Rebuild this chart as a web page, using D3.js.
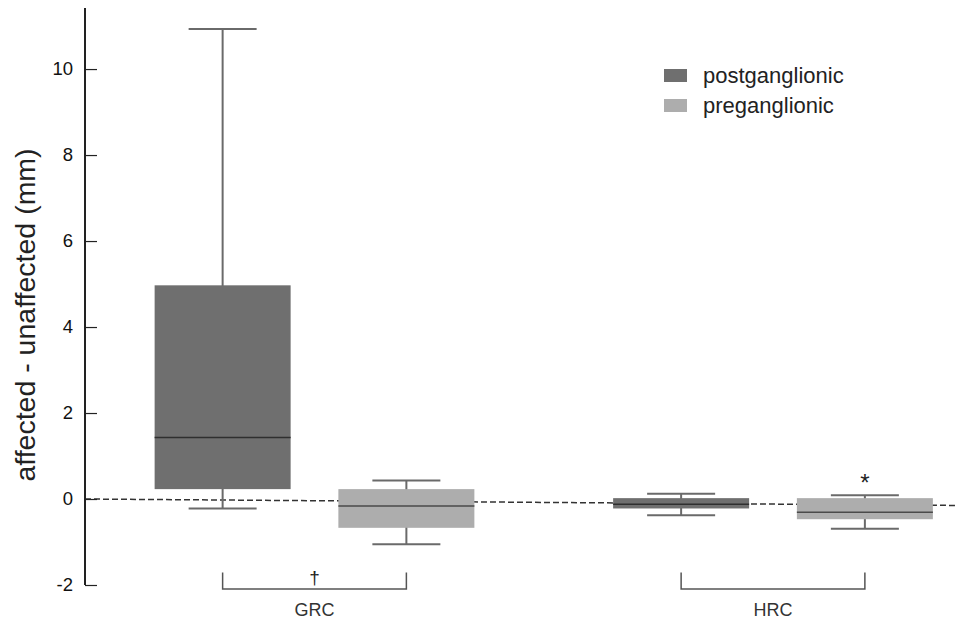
<!DOCTYPE html>
<html>
<head>
<meta charset="utf-8">
<script src="https://cdn.jsdelivr.net/npm/d3@7"></script>
<style>
  body { margin: 0; background: #fff; }
  text { font-family: Arial, "Liberation Sans", sans-serif; }
</style>
</head>
<body>
<script>
// tamaño del grafico
const width = 958;
const height = 622;

// datos
const groups = ["GRC", "HRC"];
const series = ["postganglionic", "preganglionic"];
const seriesColors = ["#6f6f6f", "#adadad"];
const groupMarks = ["\u2020", ""];          // marca sobre el corchete
const seriesMarks = [["", ""], ["", "*"]];  // marca sobre el bigote
// [grupo][serie] = [min, q1, mediana, q3, max]
const boxStats = [
  [[-0.22, 0.23, 1.43, 4.97, 10.93], [-1.05, -0.67, -0.16, 0.23, 0.43]],
  [[-0.38, -0.22, -0.12, 0.02, 0.12], [-0.69, -0.47, -0.31, 0.02, 0.09]]
];
const yTicks = [-2, 0, 2, 4, 6, 8, 10];
const refLine = [0, -0.15]; // linea punteada: valor al inicio y al final
const yLabel = "affected - unaffected (mm)";

const margin = { left: 85, top: 8, right: 0, bottom: 37 };

const svg = d3.select("body").append("svg")
  .attr("width", width)
  .attr("height", height);

// escalas
const y = d3.scaleLinear()
  .domain([-2, 11.42])
  .range([585, margin.top]);

const x0 = d3.scaleBand()
  .domain(groups)
  .range([85.25, 1002.25]);

const x1 = d3.scaleBand()
  .domain(series)
  .range([45.5, 413]);

const boxW = 136;
const capW = 68;
const cx = (gi, si) => x0(groups[gi]) + x1(series[si]) + x1.bandwidth() / 2;

// linea de referencia punteada
svg.append("line")
  .attr("x1", margin.left).attr("x2", width)
  .attr("y1", y(refLine[0])).attr("y2", y(refLine[1]))
  .attr("stroke", "#333")
  .attr("stroke-width", 1.5)
  .attr("stroke-dasharray", "6,3");

// cajas
boxStats.forEach((grp, gi) => {
  grp.forEach((s, si) => {
    const g = svg.append("g");
    const c = cx(gi, si);
    const [mn, q1, md, q3, mx] = s;
    // bigotes
    g.append("line")
      .attr("x1", c).attr("x2", c)
      .attr("y1", y(mx)).attr("y2", y(mn))
      .attr("stroke", "#6a6a6a").attr("stroke-width", 2);
    [mn, mx].forEach(v => {
      g.append("line")
        .attr("x1", c - capW / 2).attr("x2", c + capW / 2)
        .attr("y1", y(v)).attr("y2", y(v))
        .attr("stroke", "#6a6a6a").attr("stroke-width", 2);
    });
    g.append("rect")
      .attr("x", c - boxW / 2)
      .attr("width", boxW)
      .attr("y", y(q3))
      .attr("height", y(q1) - y(q3))
      .attr("fill", seriesColors[si]);
    g.append("line")
      .attr("x1", c - boxW / 2).attr("x2", c + boxW / 2)
      .attr("y1", y(md)).attr("y2", y(md))
      .attr("stroke", si === 0 ? "#2f2f2f" : "#4a4a4a").attr("stroke-width", 1.5);
    if (seriesMarks[gi][si]) {
      g.append("text")
        .attr("x", c).attr("y", y(mx) - 4)
        .attr("text-anchor", "middle")
        .attr("font-size", 24)
        .attr("fill", "#222")
        .text(seriesMarks[gi][si]);
    }
  });
});

// corchetes y etiquetas de grupo
groups.forEach((gname, gi) => {
  const a = cx(gi, 0), b = cx(gi, 1);
  svg.append("path")
    .attr("d", `M${a},572.5V589H${b}V572.5`)
    .attr("fill", "none")
    .attr("stroke", "#555")
    .attr("stroke-width", 1.5);
  if (groupMarks[gi]) {
    svg.append("text")
      .attr("x", (a + b) / 2).attr("y", 584)
      .attr("text-anchor", "middle")
      .attr("font-size", 19)
      .attr("fill", "#222")
      .text(groupMarks[gi]);
  }
  svg.append("text")
    .attr("x", (a + b) / 2).attr("y", 616)
    .attr("text-anchor", "middle")
    .attr("font-size", 18)
    .attr("fill", "#333")
    .text(gname);
});

// eje y
const yAxis = d3.axisRight(y)
  .tickValues(yTicks)
  .tickSize(12)
  .tickFormat(d => String(d));

const ax = svg.append("g")
  .attr("transform", `translate(${margin.left},0)`)
  .call(yAxis);
ax.select(".domain").remove();
ax.selectAll(".tick line").attr("stroke", "#222").attr("stroke-width", 1.2);
ax.selectAll(".tick text")
  .attr("x", -12)
  .attr("text-anchor", "end")
  .attr("font-size", 18.5)
  .attr("fill", "#111");
svg.append("line")
  .attr("x1", margin.left).attr("x2", margin.left)
  .attr("y1", margin.top).attr("y2", y(-2))
  .attr("stroke", "#222").attr("stroke-width", 2);

svg.append("text")
  .attr("transform", "translate(35,315) rotate(-90)")
  .attr("text-anchor", "middle")
  .attr("font-size", 28.5)
  .attr("fill", "#222")
  .text(yLabel);

// leyenda
const legend = svg.append("g").attr("transform", "translate(664,69)");
series.forEach((s, i) => {
  legend.append("rect")
    .attr("x", 0).attr("y", i * 30)
    .attr("width", 23).attr("height", 13)
    .attr("fill", seriesColors[i]);
  legend.append("text")
    .attr("x", 39).attr("y", i * 30 + 14)
    .attr("font-size", 22)
    .attr("fill", "#222")
    .text(s);
});
</script>
</body>
</html>
